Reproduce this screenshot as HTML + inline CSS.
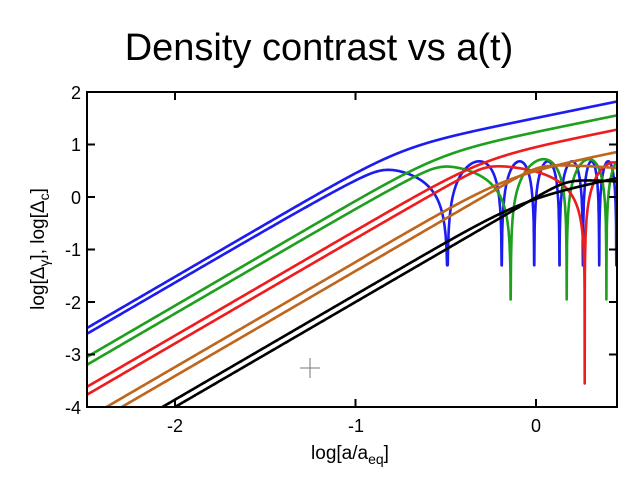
<!DOCTYPE html>
<html><head><meta charset="utf-8"><style>
body{margin:0;background:#fff;width:640px;height:480px;overflow:hidden}
svg text{font-family:"Liberation Sans",sans-serif}
</style></head><body>
<svg id="s" width="640" height="480" xmlns="http://www.w3.org/2000/svg">
<defs><clipPath id="c"><rect x="87" y="92" width="530" height="315"/></clipPath></defs>
<text x="319" y="60" font-size="38" text-anchor="middle">Density contrast vs a(t)</text>
<g id="curves" clip-path="url(#c)" fill="none" stroke-width="2.6" stroke-linejoin="round"></g>
<line x1="300" y1="368" x2="320" y2="368" stroke="#777" stroke-width="1"/>
<line x1="310" y1="358" x2="310" y2="378" stroke="#777" stroke-width="1"/>
<rect x="87" y="92" width="530" height="315" fill="none" stroke="#000" stroke-width="2"/>
<g id="ticks" stroke="#000" stroke-width="2"></g>
<g font-size="18" text-anchor="end">
<text x="81" y="99">2</text><text x="81" y="151">1</text><text x="81" y="204">0</text>
<text x="81" y="256">-1</text><text x="81" y="309">-2</text><text x="81" y="361">-3</text><text x="81" y="414">-4</text>
</g>
<g font-size="18" text-anchor="middle">
<text x="175" y="432">-2</text><text x="356" y="432">-1</text><text x="536" y="432">0</text>
</g>
<text x="350" y="459" font-size="19" text-anchor="middle">log[a/a<tspan font-size="14" dy="5">eq</tspan><tspan dy="-5">]</tspan></text>
<text transform="translate(44,249) rotate(-90)" font-size="19" text-anchor="middle">log[Δ<tspan font-size="14" dy="5">γ</tspan><tspan dy="-5">], log[Δ</tspan><tspan font-size="14" dy="5">c</tspan><tspan dy="-5">]</tspan></text>
</svg>
<script>
const X=x=>536+180.5*x, Y=y=>197-52.5*y;
const t=document.getElementById('ticks');let h='';
for(const x of [-2,-1,0]){h+=`<line x1="${X(x)}" y1="92" x2="${X(x)}" y2="100"/><line x1="${X(x)}" y1="407" x2="${X(x)}" y2="399"/>`;}
for(let y=-3;y<=1;y++){h+=`<line x1="87" y1="${Y(y)}" x2="95" y2="${Y(y)}"/><line x1="617" y1="${Y(y)}" x2="609" y2="${Y(y)}"/>`;}
t.innerHTML=h;
const w=0.32;
function dc(c,xk,x){return c+2*x-1.3*w*Math.log10(1+Math.pow(10,(x-xk)/w));}
function smin(a,b){const s=0.18;return -s*Math.log10(Math.pow(10,-a/s)+Math.pow(10,-b/s));}
function phase(zs,a){const pts=[[0,0]];zs.forEach((z,i)=>pts.push([Math.pow(10,z),Math.PI/2+i*Math.PI]));
 for(let i=1;i<pts.length;i++){if(a<=pts[i][0]){const p=pts[i-1],q=pts[i];return p[1]+(q[1]-p[1])*(a-p[0])/(q[0]-p[0]);}}
 const p=pts[pts.length-2],q=pts[pts.length-1];return q[1]+(q[1]-p[1])*(a-q[0])/(q[0]-p[0]);}
const S=[
 {col:'#1c1cf0',c:2.48,xk:-0.75,off:0.11,P:0.68,zs:[-0.49,-0.19,-0.01,0.13,0.26,0.35,0.445],dmin:-1.3},
 {col:'#1ea01e',c:1.93,xk:-0.53,off:0.15,P:0.72,zs:[-0.14,0.17,0.39],dmin:-1.95},
 {col:'#ee1c1c',c:1.36,xk:-0.30,off:0.15,P:0.66,zs:[0.27,0.55],dmin:-3.55},
 {col:'#c0661c',c:0.76,xk:-0.165,off:0.17,P:0.62,zs:[0.9],dmin:-3},
 {col:'#000000',c:0.14,xk:-0.07,off:0.14,P:0.34,zs:[1.0],dmin:-3}];
let g='';
for(const s of S){let p1='',p2='';
 for(let x=-2.5;x<=0.46;x+=0.0005){
  const y1=dc(s.c,s.xk,x);p1+=(p1?'L':'M')+X(x).toFixed(1)+','+Y(y1).toFixed(1);
  const env=smin(s.c-s.off+2*x,s.P);const ph=phase(s.zs,Math.pow(10,x));
  const y2=env+Math.max(Math.log10(Math.abs(Math.cos(ph))+1e-6),s.dmin-s.P);
  p2+=(p2?'L':'M')+X(x).toFixed(1)+','+Y(y2).toFixed(1);}
 g+=`<path d="${p1}" stroke="${s.col}"/><path d="${p2}" stroke="${s.col}"/>`;}
document.getElementById('curves').innerHTML=g;
</script>
</body></html>
